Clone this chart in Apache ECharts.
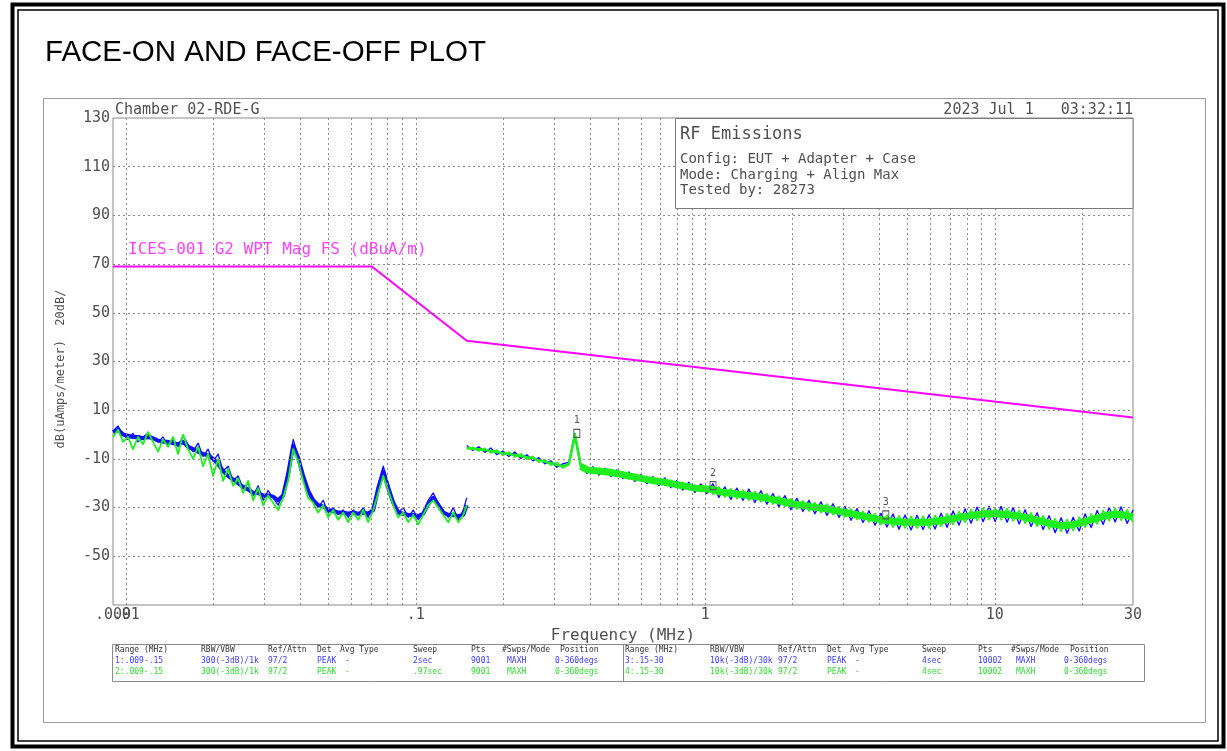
<!DOCTYPE html>
<html>
<head>
<meta charset="utf-8">
<script src="https://cdn.jsdelivr.net/npm/echarts@6/dist/echarts.min.js"></script>
<style>
  html, body { margin: 0; padding: 0; background: #fff; }
  #chart { width: 1227px; height: 751px; }
</style>
</head>
<body>
<div id="chart"></div>
<script>
// limit line, ICES-001 G2 WPT Mag FS
const limitFreq = [0.009, 0.0705, 0.15, 30];
const limitVal = [69, 69, 38.5, 7];

// range 1: .009 - .15 MHz
const freq1 = [0.009, 0.00937, 0.00975, 0.01014, 0.01055, 0.01098, 0.01143, 0.01189, 0.01237, 0.01288,
  0.0134, 0.01394, 0.01451, 0.0151, 0.01571, 0.01635, 0.01701, 0.0177, 0.01842, 0.01917,
  0.01995, 0.02076, 0.0216, 0.02248, 0.02339, 0.02434, 0.02533, 0.02636, 0.02743, 0.02854,
  0.0297, 0.03091, 0.03216, 0.03347, 0.03483, 0.03624, 0.03771, 0.03924, 0.04083, 0.04249,
  0.04421, 0.04601, 0.04788, 0.04982, 0.05184, 0.05395, 0.05614, 0.05842, 0.06079, 0.06326,
  0.06583, 0.0685, 0.07128, 0.07418, 0.07719, 0.08033, 0.08359, 0.08698, 0.09051, 0.09419,
  0.09801, 0.102, 0.1061, 0.1104, 0.1149, 0.1196, 0.1244, 0.1295, 0.1347, 0.1402,
  0.1459, 0.15];
const mid1 = [1, 2, 0, -0.5, -1, -1, -1.5, -1, -1.5, -2.5,
  -3, -3, -3.5, -4, -3, -5, -6, -7, -8, -8.5,
  -10, -12, -15, -17, -18.5, -20, -21.5, -22.5, -24, -24,
  -25, -25, -25.5, -27, -25, -16, -4.5, -9.5, -17, -23,
  -27, -29, -29.5, -31, -31.5, -32, -32, -32.5, -32, -32.5,
  -32, -32.5, -31, -22, -15, -22, -28, -32, -32.5, -33,
  -33, -33.5, -32.5, -28.5, -26, -29, -32, -33, -33, -33.5,
  -33, -29];
const blue1 = [1.5, 3.5, 0, -2, 0.5, -3, -1, 0.5, -1.5, -3,
  -1, -4.5, -2, -5, -0.5, -4, -7, -3.5, -9, -6,
  -11, -8, -15, -13, -19, -17, -22, -20, -25, -21,
  -27, -23, -26, -29, -24, -16, -2, -9, -17, -23,
  -26, -30, -27, -32, -30, -33, -31, -34, -31, -33,
  -30, -34, -29, -21, -13, -20, -27, -32, -30, -34,
  -31, -35, -32, -27, -24, -28, -31, -34, -30, -35,
  -31, -26];
const green1 = [-1, 2, -3, -1, -6, -1, -4, 1, -3, -7,
  -2, -5, -1, -8, 0, -6, -10, -5, -13, -8,
  -17, -10, -19, -14, -21, -18, -24, -19, -27, -22,
  -29, -25, -28, -31, -26, -19, -6, -11, -19, -26,
  -28, -32, -29, -34, -31, -35, -32, -36, -32, -35,
  -31, -36, -31, -24, -17, -23, -29, -34, -32, -36,
  -33, -37, -33, -29, -27, -30, -33, -36, -32, -36,
  -33, -29];

// range 2: .15 - 30 MHz
const freq2 = [0.15, 0.1573, 0.165, 0.1731, 0.1816, 0.1905, 0.1998, 0.2096, 0.2198, 0.2306,
  0.2419, 0.2537, 0.2661, 0.2791, 0.2928, 0.3071, 0.3221, 0.3379, 0.3544, 0.3717,
  0.3899, 0.409, 0.429, 0.45, 0.472, 0.4951, 0.5193, 0.5447, 0.5714, 0.5993,
  0.6286, 0.659, 0.691, 0.725, 0.76, 0.797, 0.836, 0.877, 0.92, 0.965,
  1.012, 1.062, 1.114, 1.168, 1.225, 1.285, 1.348, 1.414, 1.483, 1.556,
  1.632, 1.712, 1.795, 1.883, 1.975, 2.072, 2.173, 2.28, 2.391, 2.508,
  2.631, 2.76, 2.895, 3.036, 3.185, 3.341, 3.504, 3.675, 3.855, 4.044,
  4.241, 4.449, 4.666, 4.895, 5.134, 5.385, 5.649, 5.925, 6.215, 6.519,
  6.838, 7.172, 7.523, 7.891, 8.277, 8.682, 9.107, 9.552, 10.02, 10.51,
  11.02, 11.56, 12.13, 12.72, 13.34, 13.99, 14.68, 15.4, 16.15, 16.94,
  17.77, 18.64, 19.55, 20.5, 21.51, 22.56, 23.66, 24.82, 26.03, 27.3,
  28.64, 30];
const mid2 = [-5.5, -5.8, -6, -6.3, -6.7, -7.2, -7.7, -8, -8.4, -8.8,
  -9.3, -9.9, -10.5, -11.1, -11.8, -12.4, -13, -12, 0, -13,
  -14.5, -14.8, -15, -15.3, -15.6, -16, -16.5, -17, -17.5, -18,
  -18.5, -18.9, -19.3, -19.6, -20.1, -20.6, -21, -21.5, -22, -22.2,
  -22.4, -22.6, -23.5, -23.8, -24.1, -24.4, -24.7, -25, -25.3, -25.7,
  -26.2, -26.7, -27.2, -27.7, -28.3, -28.7, -29.1, -29.5, -29.9, -30.2,
  -30.5, -31, -31.5, -32, -32.5, -33, -33.5, -34, -34.5, -35,
  -35.3, -35.6, -35.8, -36, -36, -36, -36, -36, -35.7, -35.3,
  -35, -34.5, -34, -33.6, -33.2, -32.9, -32.6, -32.5, -32.5, -32.6,
  -32.8, -33.1, -33.5, -34, -34.6, -35.2, -35.8, -36.4, -37, -37.3,
  -37.3, -37, -36.4, -35.7, -35, -34.3, -33.6, -33, -32.7, -32.8,
  -33.3, -34];
const blue2 = [-4.5, -6.5, -5, -7.3, -5.5, -8.2, -6.8, -9, -7.2, -9.8,
  -8.3, -10.8, -9.5, -12, -10.8, -13.4, -12, -11.5, 0.5, -12.5,
  -16, -13.2, -16.6, -13.8, -17.2, -14.5, -18.1, -15.4, -19.2, -16.4,
  -20.2, -17.3, -21, -17.8, -21.8, -19, -22.8, -19.6, -23.8, -20.3,
  -24.3, -20.2, -25.8, -21.5, -26.6, -22, -27, -22.4, -27.9, -23.1,
  -28.6, -24.2, -29.7, -25.1, -30.9, -26.2, -31.6, -27, -32.5, -27.6,
  -33.2, -28.4, -34, -29.5, -35.2, -30.4, -36.1, -31.3, -37.2, -32.4,
  -38, -32.6, -38.9, -33, -39.2, -33.1, -39, -32.9, -38.8, -32.3,
  -38.1, -31.4, -37.2, -30.5, -36.4, -29.8, -35.8, -29.4, -35.7, -29.5,
  -36, -30, -36.7, -30.9, -37.8, -32.1, -39, -33.3, -40.3, -34.2,
  -40.5, -34, -39.6, -32.6, -38.2, -31.2, -36.9, -30, -35.9, -29.7,
  -36.5, -31];
const green2 = [-6, -5.2, -6.8, -5.6, -7.6, -6.3, -8.6, -7.1, -9.3, -7.8,
  -10.2, -8.9, -11.4, -10.2, -12.7, -11.4, -13.8, -12.5, -1.5, -13.8,
  -13.3, -16, -13.9, -16.5, -14.4, -17.2, -15.3, -18.2, -16.3, -19.2,
  -17.3, -20.1, -18.1, -20.9, -18.8, -21.8, -19.7, -22.7, -20.7, -23.5,
  -21.2, -24.6, -21.4, -25.8, -22.2, -26.4, -22.7, -27, -23.3, -27.7,
  -24.2, -28.7, -25.2, -29.7, -26.3, -30.7, -27.1, -31.5, -27.9, -32.2,
  -28.5, -33, -29.5, -34, -30.5, -35, -31.5, -36, -32.5, -37,
  -33, -38.1, -33.3, -38.5, -33.5, -38.5, -33.5, -38.5, -33.2, -37.8,
  -32.5, -37, -31.5, -36.1, -30.7, -35.4, -30.1, -35, -30, -35.1,
  -30.3, -35.6, -31, -36.5, -32.1, -37.7, -33.3, -38.9, -34.5, -39.8,
  -34.8, -39.5, -33.9, -38.2, -32.5, -36.8, -31.1, -35.5, -30.2, -35.3,
  -30.8, -36];

// markers
const markerFreqs = [0.36, 1.063, 4.2];
const markerVals = [0.5, -21, -33];
const markerNames = ['1', '2', '3'];

// grid and ticks
const gridFreqs = [0.01, 0.02, 0.03, 0.04, 0.05, 0.06, 0.07, 0.08, 0.09,
  0.1, 0.2, 0.3, 0.4, 0.5, 0.6, 0.7, 0.8, 0.9,
  1, 2, 3, 4, 5, 6, 7, 8, 9, 10, 20];
const gridLevels = [110, 90, 70, 50, 30, 10, -10, -30, -50];
const yTickLabels = [130, 110, 90, 70, 50, 30, 10, -10, -30, -50];
const xTickValues = [0.009, 0.01, 0.1, 1, 10, 30];
const xTickLabels = ['.009', '.01', '.1', '1', '10', '30'];

// settings table
const tableHeader = ['Range (MHz)', 'RBW/VBW', 'Ref/Attn', 'Det', 'Avg Type', 'Sweep', 'Pts', '#Swps/Mode', 'Position'];
const row1 = ['1:.009-.15', '300(-3dB)/1k', '97/2', 'PEAK', '-', '2sec', '9001', 'MAXH', '0-360degs'];
const row2 = ['2:.009-.15', '300(-3dB)/1k', '97/2', 'PEAK', '-', '.97sec', '9001', 'MAXH', '0-360degs'];
const row3 = ['3:.15-30', '10k(-3dB)/30k', '97/2', 'PEAK', '-', '4sec', '10002', 'MAXH', '0-360degs'];
const row4 = ['4:.15-30', '10k(-3dB)/30k', '97/2', 'PEAK', '-', '4sec', '10002', 'MAXH', '0-360degs'];

const infoLines = ['Config: EUT + Adapter + Case', 'Mode: Charging + Align Max', 'Tested by: 28273'];

const MONO = '"DejaVu Sans Mono", "Liberation Mono", monospace';
const TXT = '#505050';
const BLUE = '#1010ff';
const GREEN = '#1ef01e';

const pairs = (fs, vs) => fs.map((f, i) => [f, vs[i]]);

const xLabel = (v) => {
  for (let i = 0; i < xTickValues.length; i++) {
    if (Math.abs(v / xTickValues[i] - 1) < 1e-6) return xTickLabels[i];
  }
  return '';
};

// table graphics
const headX1 = [115, 201, 268, 317, 340, 413, 471, 502, 560];
const valX1 = [115, 201, 268, 317, 345, 413, 471, 507, 555];
const headX2 = [625, 710, 778, 827, 850, 922, 978, 1011, 1070];
const valX2 = [625, 710, 778, 827, 855, 922, 978, 1016, 1064];

const tableText = [];
const addRow = (cells, xs, y, color) => {
  cells.forEach((c, i) => {
    tableText.push({
      type: 'text', x: xs[i], y: y,
      style: { text: c, fill: color, font: '8px ' + MONO, textVerticalAlign: 'middle' }
    });
  });
};
addRow(tableHeader, headX1, 650, '#333');
addRow(row1, valX1, 661, '#3a3aff');
addRow(row2, valX1, 672, '#2fdc2f');
addRow(tableHeader, headX2, 650, '#333');
addRow(row3, valX2, 661, '#3a3aff');
addRow(row4, valX2, 672, '#2fdc2f');

const lineSeries = (name, data, color, width, z) => ({
  name: name, type: 'line', data: data, showSymbol: false, silent: true, z: z,
  lineStyle: { color: color, width: width, join: 'round' }
});

const chart = echarts.init(document.getElementById('chart'));

chart.setOption({
  animation: false,
  backgroundColor: '#fff',
  title: {
    text: 'FACE-ON AND FACE-OFF PLOT',
    left: 40, top: 33,
    textStyle: { fontFamily: '"Liberation Sans", Arial, sans-serif', fontSize: 29.5, fontWeight: 'normal', color: '#000' }
  },
  grid: {
    left: 113, right: 94, top: 118, bottom: 146,
    show: true, borderColor: '#8a8a8a', borderWidth: 1
  },
  xAxis: {
    type: 'log', logBase: 10, min: 0.009, max: 30,
    axisLine: { show: false }, axisTick: { show: false }, splitLine: { show: false },
    axisLabel: {
      showMinLabel: true, showMaxLabel: true, hideOverlap: false, margin: 3,
      fontFamily: MONO, fontSize: 15, color: TXT,
      formatter: xLabel
    },
    name: 'Frequency (MHz)', nameLocation: 'middle', nameGap: 22,
    nameTextStyle: { fontFamily: MONO, fontSize: 16, color: TXT }
  },
  yAxis: {
    type: 'value', min: -70, max: 130, interval: 10,
    axisLine: { show: false }, axisTick: { show: false }, splitLine: { show: false },
    axisLabel: {
      margin: 3, fontFamily: MONO, fontSize: 15, color: TXT,
      formatter: (v) => (yTickLabels.indexOf(v) >= 0 ? String(v) : '')
    }
  },
  series: [
    {
      name: 'grid', type: 'line', data: [], silent: true,
      markLine: {
        silent: true, symbol: 'none', animation: false,
        label: { show: false },
        lineStyle: { color: '#8a8a8a', type: [2, 3], width: 1 },
        emphasis: { disabled: true },
        data: gridFreqs.map((f) => (
          xTickValues.indexOf(f) === 1
            ? { xAxis: f, label: { show: true, position: 'start', distance: 3, formatter: xTickLabels[1], color: TXT, fontFamily: MONO, fontSize: 15 } }
            : { xAxis: f }
        )).concat(gridLevels.map((v) => ({ yAxis: v })))
      }
    },
    lineSeries('blue1band', pairs(freq1, mid1), BLUE, 4, 2),
    lineSeries('blue1', pairs(freq1, blue1), BLUE, 1.3, 2),
    lineSeries('green1', pairs(freq1, green1), GREEN, 1.8, 2),
    lineSeries('blue2', pairs(freq2, blue2), BLUE, 1.4, 2),
    lineSeries('green2band', pairs(freq2.slice(0, 20), mid2.slice(0, 20)), GREEN, 2.5, 2),
    lineSeries('green2bandwide', pairs(freq2.slice(19), mid2.slice(19)), GREEN, 7, 2),
    Object.assign(lineSeries('green2', pairs(freq2, green2), GREEN, 1.4, 2), {
      markPoint: {
        symbol: 'rect', symbolSize: [6, 8], silent: true,
        itemStyle: { color: 'rgba(0,0,0,0)', borderColor: '#555', borderWidth: 1 },
        label: { show: true, position: 'top', distance: 3, color: '#555', fontFamily: MONO, fontSize: 10, formatter: (p) => p.name },
        data: markerFreqs.map((f, i) => ({ name: markerNames[i], coord: [f, markerVals[i]] }))
      }
    }),
    lineSeries('limit', pairs(limitFreq, limitVal), '#ff00ff', 2, 5)
  ],
  graphic: [
    // outer frames
    { type: 'rect', shape: { x: 12.5, y: 4.5, width: 1211, height: 742 }, style: { fill: null, stroke: '#000', lineWidth: 4 }, silent: true },
    { type: 'rect', shape: { x: 18, y: 10, width: 1200, height: 731 }, style: { fill: null, stroke: '#000', lineWidth: 1.5 }, silent: true },
    { type: 'rect', shape: { x: 43.5, y: 98.5, width: 1162, height: 624 }, style: { fill: null, stroke: '#9a9a9a', lineWidth: 1 }, silent: true },
    // header texts
    { type: 'text', x: 115, y: 110, style: { text: 'Chamber 02-RDE-G', fill: TXT, font: '15px ' + MONO, textVerticalAlign: 'middle' } },
    { type: 'text', x: 1133, y: 110, style: { text: '2023 Jul 1   03:32:11', fill: TXT, font: '15px ' + MONO, textAlign: 'right', textVerticalAlign: 'middle' } },
    // info box
    { type: 'rect', z: 10, shape: { x: 675.5, y: 118.5, width: 457.5, height: 90 }, style: { fill: '#fff', stroke: '#7a7a7a', lineWidth: 1 } },
    { type: 'text', z: 11, x: 680, y: 135, style: { text: 'RF Emissions', fill: TXT, font: '17px ' + MONO, textVerticalAlign: 'middle' } },
    { type: 'text', z: 11, x: 680, y: 159, style: { text: infoLines[0], fill: TXT, font: '14px ' + MONO, textVerticalAlign: 'middle' } },
    { type: 'text', z: 11, x: 680, y: 175, style: { text: infoLines[1], fill: TXT, font: '14px ' + MONO, textVerticalAlign: 'middle' } },
    { type: 'text', z: 11, x: 680, y: 190, style: { text: infoLines[2], fill: TXT, font: '14px ' + MONO, textVerticalAlign: 'middle' } },
    // limit label
    { type: 'text', x: 128, y: 250, style: { text: 'ICES-001 G2 WPT Mag FS (dBuA/m)', fill: '#ff40ff', font: '16px ' + MONO, textVerticalAlign: 'middle' } },
    // y axis name
    { type: 'text', x: 61, y: 369, rotation: Math.PI / 2, style: { text: 'dB(uAmps/meter)  20dB/', fill: TXT, font: '12px ' + MONO, textAlign: 'center', textVerticalAlign: 'middle' } },
    // table
    { type: 'rect', shape: { x: 112.5, y: 644.5, width: 1032, height: 37 }, style: { fill: null, stroke: '#8a8a8a', lineWidth: 1 } },
    { type: 'line', shape: { x1: 623.5, y1: 644.5, x2: 623.5, y2: 681.5 }, style: { stroke: '#8a8a8a', lineWidth: 1 } }
  ].concat(tableText)
});
</script>
</body>
</html>
